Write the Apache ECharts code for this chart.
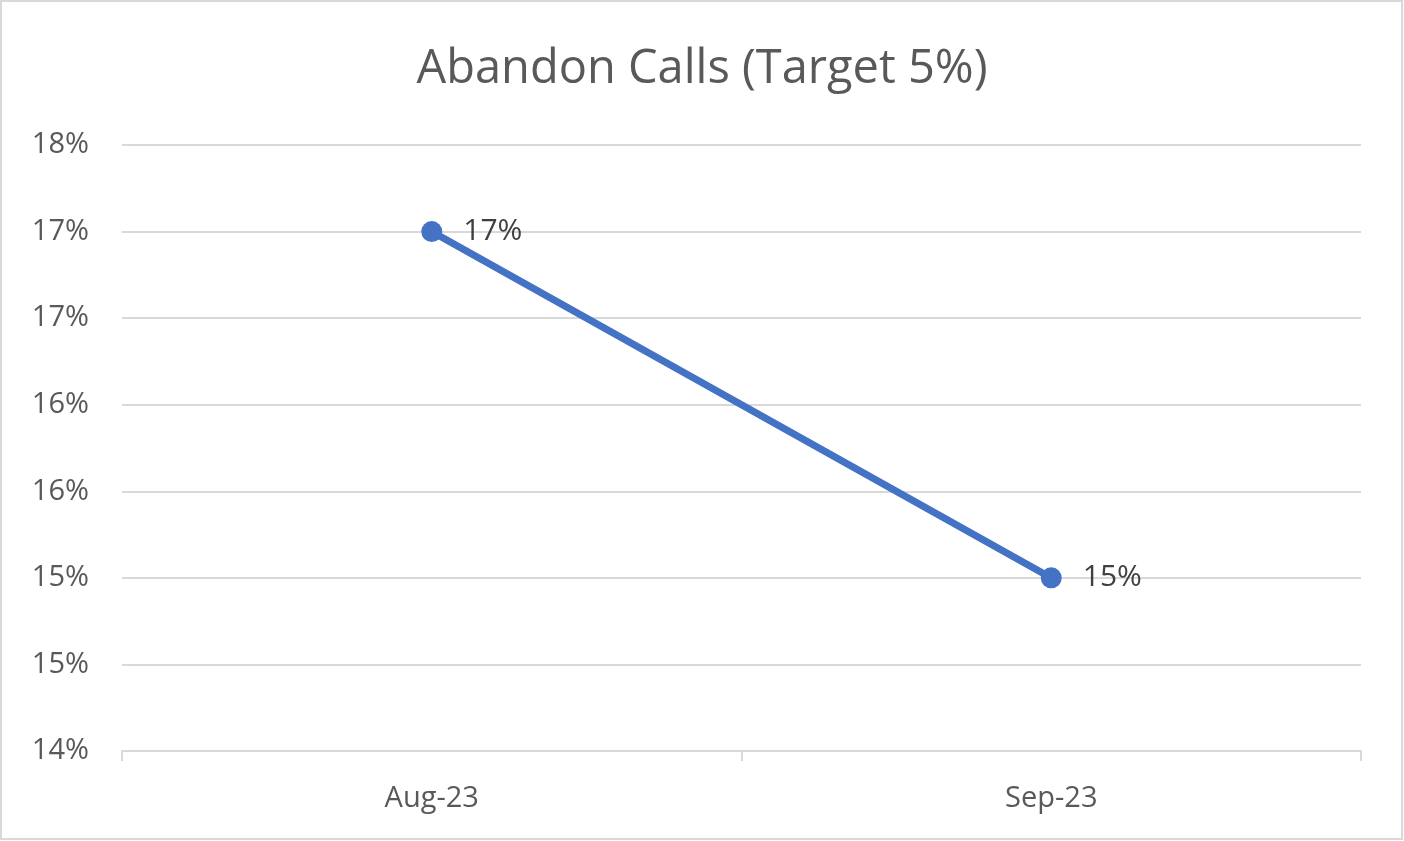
<!DOCTYPE html>
<html>
<head>
<meta charset="utf-8">
<script src="https://cdn.jsdelivr.net/npm/echarts@6/dist/echarts.min.js"></script>
<style>
html,body{margin:0;padding:0;background:#fff;}
#chart{width:1404px;height:841px;}
</style>
</head>
<body>
<div id="chart"></div>
<script>
const categories = ['Aug-23', 'Sep-23'];
const abandonPct = [17.0, 15.0];
const titleText = 'Abandon Calls (Target 5%)';

const chart = echarts.init(document.getElementById('chart'));
const fontFam = '"Open Sans", "Liberation Sans", sans-serif';
chart.setOption({
  animation: false,
  backgroundColor: '#ffffff',
  title: {
    text: titleText,
    left: 'center',
    top: 41,
    textStyle: { fontFamily: fontFam, fontSize: 47, fontWeight: 'normal', color: '#595959' }
  },
  graphic: [{
    type: 'rect',
    silent: true,
    shape: { x: 1, y: 1, width: 1401, height: 838 },
    style: { fill: 'none', stroke: '#d9d9d9', lineWidth: 2 }
  }],
  grid: { left: 122, right: 43, top: 145, bottom: 90 },
  xAxis: {
    type: 'category',
    data: categories,
    boundaryGap: true,
    axisLine: { lineStyle: { color: '#d9d9d9', width: 2 } },
    axisTick: { show: true, length: 10, lineStyle: { color: '#d9d9d9', width: 2 } },
    axisLabel: { fontFamily: fontFam, fontSize: 29, color: '#595959', margin: 33 }
  },
  yAxis: {
    type: 'value',
    min: 14,
    max: 17.5,
    interval: 0.5,
    axisLine: { show: false },
    axisTick: { show: false },
    splitLine: { lineStyle: { color: '#d9d9d9', width: 2 } },
    axisLabel: {
      fontFamily: fontFam, fontSize: 29, color: '#595959', margin: 33,
      formatter: v => Math.round(v) + '%'
    }
  },
  series: [{
    type: 'line',
    data: abandonPct,
    symbol: 'circle',
    symbolSize: 21,
    lineStyle: { color: '#4472C4', width: 7 },
    itemStyle: { color: '#4472C4' },
    label: {
      show: true,
      position: 'right',
      distance: 21,
      fontFamily: fontFam, fontSize: 30, color: '#404040',
      formatter: p => Math.round(p.value) + '%'
    }
  }]
});
</script>
</body>
</html>
